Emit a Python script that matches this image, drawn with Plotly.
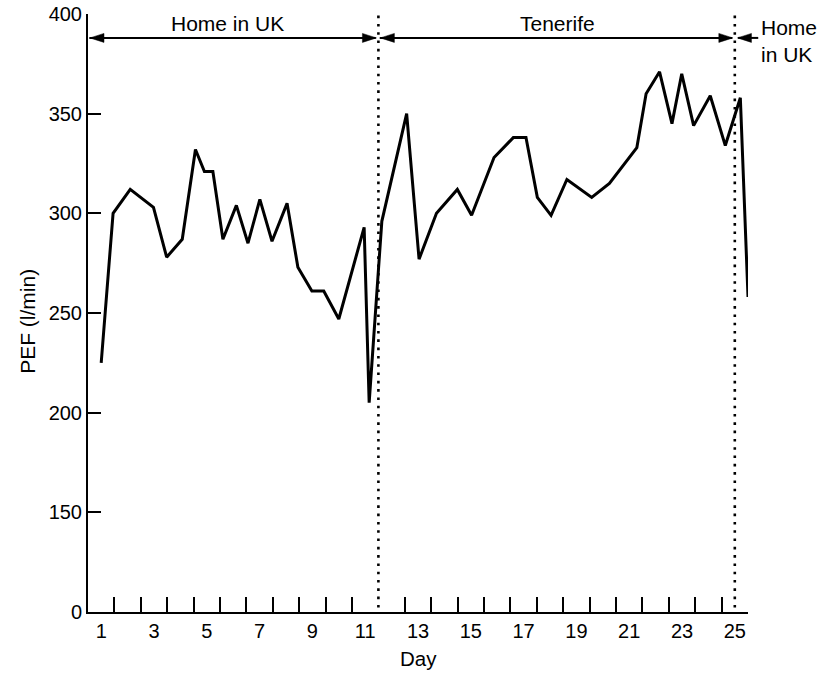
import plotly.graph_objects as go

# Peak expiratory flow readings (day, l/min)
day = [1.0, 1.45, 2.1, 2.98, 3.48, 4.07, 4.57, 4.91, 5.23, 5.61,
       6.12, 6.56, 7.01, 7.47, 8.04, 8.45, 8.98, 9.43, 10.0, 10.96,
       11.15, 11.63, 12.57, 13.04, 13.7, 14.49, 15.03, 15.88, 16.61, 17.09,
       17.52, 18.04, 18.64, 19.58, 20.25, 21.29, 21.64, 22.15, 22.62, 22.99,
       23.44, 24.07, 24.64, 25.21, 25.5]
pef = [225, 300, 312, 303, 278, 287, 332, 321, 321, 287,
       304, 285, 307, 286, 305, 273, 261, 261, 247, 293,
       205, 296, 350, 277, 300, 312, 299, 328, 338, 338,
       308, 299, 317, 308, 315, 333, 360, 371, 345, 370,
       344, 359, 334, 358, 258]

# Location periods
period_labels = ["Home in UK", "Tenerife", "Home<br>in UK"]
period_bounds = [0.5, 11.5, 25.0]

# Axis ticks (broken y axis: bottom tick is labelled 0)
x_label_vals = list(range(1, 26, 2))
x_mark_vals = [d + 0.5 for d in range(1, 25) if d + 0.5 != 11.5]
y_tick_vals = [100, 150, 200, 250, 300, 350, 400]
y_tick_text = ["0", "150", "200", "250", "300", "350", "400"]

X_RANGE = [0.5, 25.5]
Y_RANGE = [100, 400]
ARROW_Y = 388
FONT = "Liberation Sans, Arial, Helvetica, sans-serif"


def to_paper(d):
    return (d - X_RANGE[0]) / (X_RANGE[1] - X_RANGE[0])


fig = go.Figure()
fig.add_trace(go.Scatter(
    x=day, y=pef, mode="lines",
    line=dict(color="black", width=3),
    hoverinfo="skip", showlegend=False,
))

shapes = []
# dotted separators between periods
for b in period_bounds[1:]:
    shapes.append(dict(type="line", xref="x", yref="paper", x0=b, x1=b,
                       y0=0.0075, y1=1.0067,
                       line=dict(color="black", width=2.6, dash="2.6px,5.7px")))

right_head = "M0,0 L-14,-4.5 L-14,4.5 Z"
left_head = "M0,0 L14,-4.5 L14,4.5 Z"


def head(xref, xa, path):
    return dict(type="path", xref=xref, yref="y", xsizemode="pixel",
                ysizemode="pixel", xanchor=xa, yanchor=ARROW_Y, path=path,
                fillcolor="black", line=dict(color="black", width=0.5))


# double arrows spanning each period
spans = [(period_bounds[0], period_bounds[1]), (period_bounds[1], period_bounds[2])]
for a, b in spans:
    pa, pb = to_paper(a), to_paper(b)
    shapes.append(dict(type="line", xref="paper", yref="y", x0=pa + 0.002,
                       x1=pb - 0.004, y0=ARROW_Y, y1=ARROW_Y,
                       line=dict(color="black", width=2)))
    shapes.append(head("paper", pa + 0.003, left_head))
    shapes.append(head("paper", pb - 0.003, right_head))

# short arrow for the final period (beyond the axis end)
pe = to_paper(period_bounds[2])
shapes.append(dict(type="line", xref="paper", yref="y", x0=pe + 0.005,
                   x1=1.0155, y0=ARROW_Y, y1=ARROW_Y,
                   line=dict(color="black", width=2)))
shapes.append(head("paper", pe + 0.004, left_head))

annotations = [
    dict(text=period_labels[0], x=5.77, y=395, xref="x", yref="y",
         showarrow=False, font=dict(size=21)),
    dict(text=period_labels[1], x=18.27, y=395, xref="x", yref="y",
         showarrow=False, font=dict(size=21)),
    dict(text=period_labels[2], x=1.016, y=386.5, xref="paper", yref="y",
         xanchor="left", showarrow=False, align="left", font=dict(size=21)),
    dict(text="PEF (l/min)", x=-0.0917, y=0.486, xref="paper", yref="paper",
         xanchor="center", yanchor="middle",
         textangle=-90, showarrow=False, font=dict(size=21)),
    dict(text="Day", x=0.5, y=-0.078, xref="paper", yref="paper",
         xanchor="center", yanchor="middle", showarrow=False,
         font=dict(size=20.5)),
]

fig.update_layout(
    width=828, height=674,
    margin=dict(l=88, r=80, t=14, b=62),
    paper_bgcolor="white", plot_bgcolor="white",
    font=dict(family=FONT, color="black"),
    shapes=shapes, annotations=annotations,
    xaxis=dict(
        range=X_RANGE, showgrid=False, zeroline=False, automargin=False,
        showline=True, linecolor="black", linewidth=2,
        tickmode="array", tickvals=x_label_vals, ticks="",
        tickfont=dict(size=20),
        minor=dict(tickmode="array", tickvals=x_mark_vals, ticks="inside",
                   ticklen=15, tickwidth=2, tickcolor="black", showgrid=False),
    ),
    yaxis=dict(
        range=Y_RANGE, showgrid=False, zeroline=False, automargin=False,
        showline=True, linecolor="black", linewidth=2,
        tickmode="array", tickvals=y_tick_vals, ticktext=y_tick_text,
        ticks="inside", ticklen=13, tickwidth=2, tickcolor="black",
        tickfont=dict(size=20),
    ),
)

fig.write_html("out.html")
